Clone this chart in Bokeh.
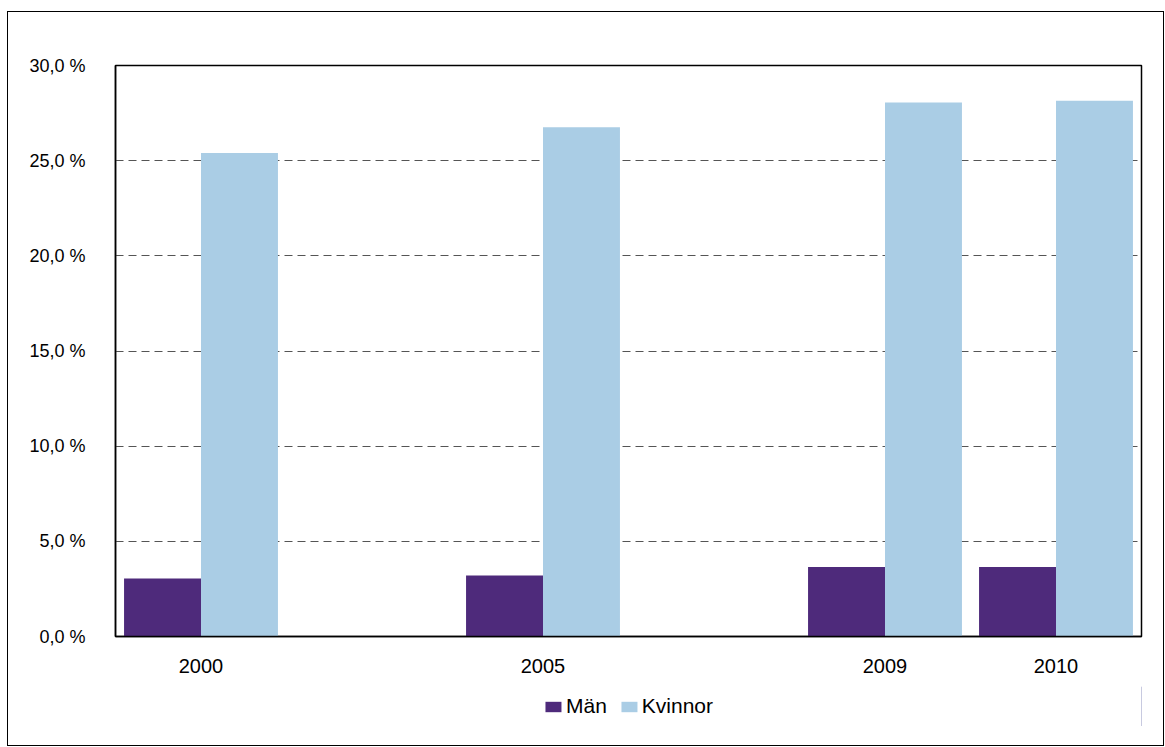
from bokeh.plotting import figure
from bokeh.models import FactorRange, Range1d, Legend, LegendItem, FixedTicker, ColumnDataSource
from bokeh.layouts import column
from bokeh.transform import dodge
from bokeh.embed import file_html
from bokeh.resources import INLINE

# Data
years = ["2000", "2005", "2009", "2010"]
man = [3.05, 3.2, 3.65, 3.65]
kvinnor = [25.4, 26.75, 28.05, 28.15]
series = ["Män", "Kvinnor"]
colors = ["#4e2a7b", "#aacde5"]
slots = ["2000", " ", "2005", "  ", "2009", "2010"]
y_ticks = [0, 5, 10, 15, 20, 25, 30]

src = ColumnDataSource(dict(year=years, man=man, kvinnor=kvinnor))
font = "Liberation Sans"

p = figure(frame_width=1026, frame_height=571, output_backend="svg", toolbar_location=None,
           x_range=FactorRange(*slots, range_padding=0), y_range=Range1d(0, 30),
           min_border_left=107, min_border_top=53, min_border_right=22, min_border_bottom=50)

p.vbar(x=dodge("year", -0.225, range=p.x_range), top="man", width=0.45,
       source=src, fill_color=colors[0], line_color=None)
p.vbar(x=dodge("year", 0.225, range=p.x_range), top="kvinnor", width=0.45,
       source=src, fill_color=colors[1], line_color=None)

p.outline_line_color = "black"
p.outline_line_width = 1.5
p.xgrid.grid_line_color = None
p.ygrid.ticker = FixedTicker(ticks=y_ticks)
p.ygrid.grid_line_color = "#555555"
p.ygrid.grid_line_dash = "8 5"
p.ygrid.grid_line_width = 1

p.yaxis.ticker = FixedTicker(ticks=y_ticks)
p.yaxis.major_label_overrides = {t: f"{t:.1f}".replace(".", ",") + " %" for t in y_ticks}
p.yaxis.major_label_text_font = font
p.yaxis.major_label_text_font_size = "18px"
p.yaxis.major_label_text_color = "black"
p.yaxis.major_tick_line_color = None
p.yaxis.minor_tick_line_color = None
p.yaxis.major_label_standoff = 24
p.yaxis.axis_line_color = "black"
p.yaxis.axis_line_width = 1.5

p.xaxis.major_label_text_font = font
p.xaxis.major_label_text_font_size = "20px"
p.xaxis.major_label_text_color = "black"
p.xaxis.major_tick_line_color = None
p.xaxis.major_label_standoff = 12
p.xaxis.axis_line_color = "black"
p.xaxis.axis_line_width = 1.5

# Legend strip below the chart (swatch renderers sit outside its visible range)
lg = figure(width=1155, height=40, output_backend="svg", toolbar_location=None,
            x_axis_location=None, y_axis_location=None,
            x_range=Range1d(0, 1), y_range=Range1d(0, 1),
            min_border=0, min_border_left=84)
lg.outline_line_color = None
lg.grid.grid_line_color = None
dummy = [lg.vbar(x=[5], top=[1], width=0.1, fill_color=c, line_color=None) for c in colors]
legend = Legend(items=[LegendItem(label=s, renderers=[r]) for s, r in zip(series, dummy)],
                orientation="horizontal", location="center",
                label_text_font=font, label_text_font_size="21px", label_text_color="black",
                glyph_width=20, glyph_height=13, label_standoff=3, spacing=12,
                border_line_color=None, background_fill_alpha=0,
                padding=0, margin=0)
lg.add_layout(legend, "center")

layout = column(p, lg, spacing=0,
                styles={"border": "1.5px solid black", "margin-left": "7px",
                        "margin-top": "11px", "padding-bottom": "19px"})

open("out.html", "w").write(file_html(layout, INLINE))
